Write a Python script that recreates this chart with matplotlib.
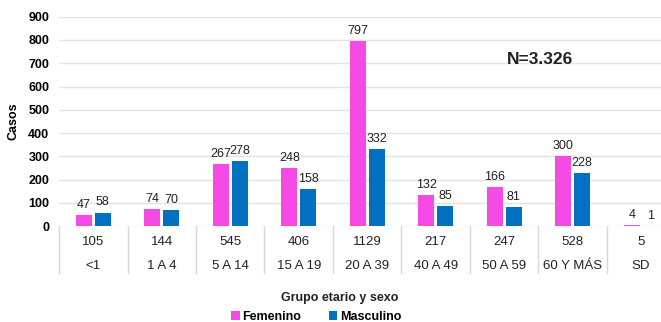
import numpy as np
import matplotlib
matplotlib.use("Agg")
import matplotlib.pyplot as plt
import matplotlib.transforms as mtransforms

# casos por grupo etario y sexo
grupos = ["<1", "1 A 4", "5 A 14", "15 A 19", "20 A 39", "40 A 49", "50 A 59", "60 Y MÁS", "SD"]
femenino = [47, 74, 267, 248, 797, 132, 166, 300, 4]
masculino = [58, 70, 278, 158, 332, 85, 81, 228, 1]
totales = [105, 144, 545, 406, 1129, 217, 247, 528, 5]
total_n = "N=3.326"

color_fem = "#F54AE6"
color_mas = "#0070C0"

plt.rcParams["font.family"] = ["Liberation Sans", "DejaVu Sans"]

fig = plt.figure(figsize=(6.61, 3.22), dpi=100)
ax = fig.add_axes([0.0893, 0.298, 0.9107, 0.650])

x = np.arange(len(grupos))
w = 0.235
b1 = ax.bar(x - 0.138, femenino, w, color=color_fem, label="Femenino", zorder=3)
b2 = ax.bar(x + 0.138, masculino, w, color=color_mas, label="Masculino", zorder=3)

for bars, vals in ((b1, femenino), (b2, masculino)):
    for rect, v in zip(bars, vals):
        ax.annotate(str(v), (rect.get_x() + rect.get_width() / 2, v),
                    xytext=(0, 3), textcoords="offset points",
                    ha="center", va="bottom", fontsize=9, color="#222222")

ax.set_ylim(0, 900)
ax.set_yticks(range(0, 901, 100))
ax.set_xlim(-0.5, 8.29)
ax.set_xticks([])
ax.grid(axis="y", color="#e3e3e3", linewidth=1, zorder=0)
for s in ax.spines.values():
    s.set_visible(False)
ax.tick_params(axis="y", length=0, pad=7, labelsize=9)
for lbl in ax.get_yticklabels():
    lbl.set_fontweight("bold")
ax.set_ylabel("Casos", fontsize=9, fontweight="bold", labelpad=6)

# tabla de totales y grupos bajo el eje
trans = mtransforms.blended_transform_factory(ax.transData, ax.transAxes)
for i in range(len(grupos)):
    ax.text(i, -0.076, str(totales[i]), transform=trans, ha="center", va="center",
            fontsize=9.5, color="#222222", clip_on=False)
    ax.text(i, -0.19, grupos[i], transform=trans, ha="center", va="center",
            fontsize=9.5, color="#222222", clip_on=False)
    ax.plot([i - 0.5, i - 0.5], [0, -0.225], transform=trans, color="#d9d9d9",
            linewidth=1, clip_on=False)

fig.text(540 / 661, 1 - 59 / 322, total_n, ha="center", va="center",
         fontsize=12.5, fontweight="bold", color="#222222")

fig.text(340 / 661, 1 - 298 / 322, "Grupo etario y sexo", ha="center", va="center",
         fontsize=9, fontweight="bold", color="#222222")
fig.legend(handles=[b1, b2], loc="center", bbox_to_anchor=(316 / 661, 1 - 317 / 322),
           ncol=2, frameon=False, handlelength=0.7, handleheight=0.7,
           handletextpad=0.2, columnspacing=2.2, borderpad=0,
           prop={"size": 9, "weight": "bold"})

fig.savefig("out.png", dpi=100)
